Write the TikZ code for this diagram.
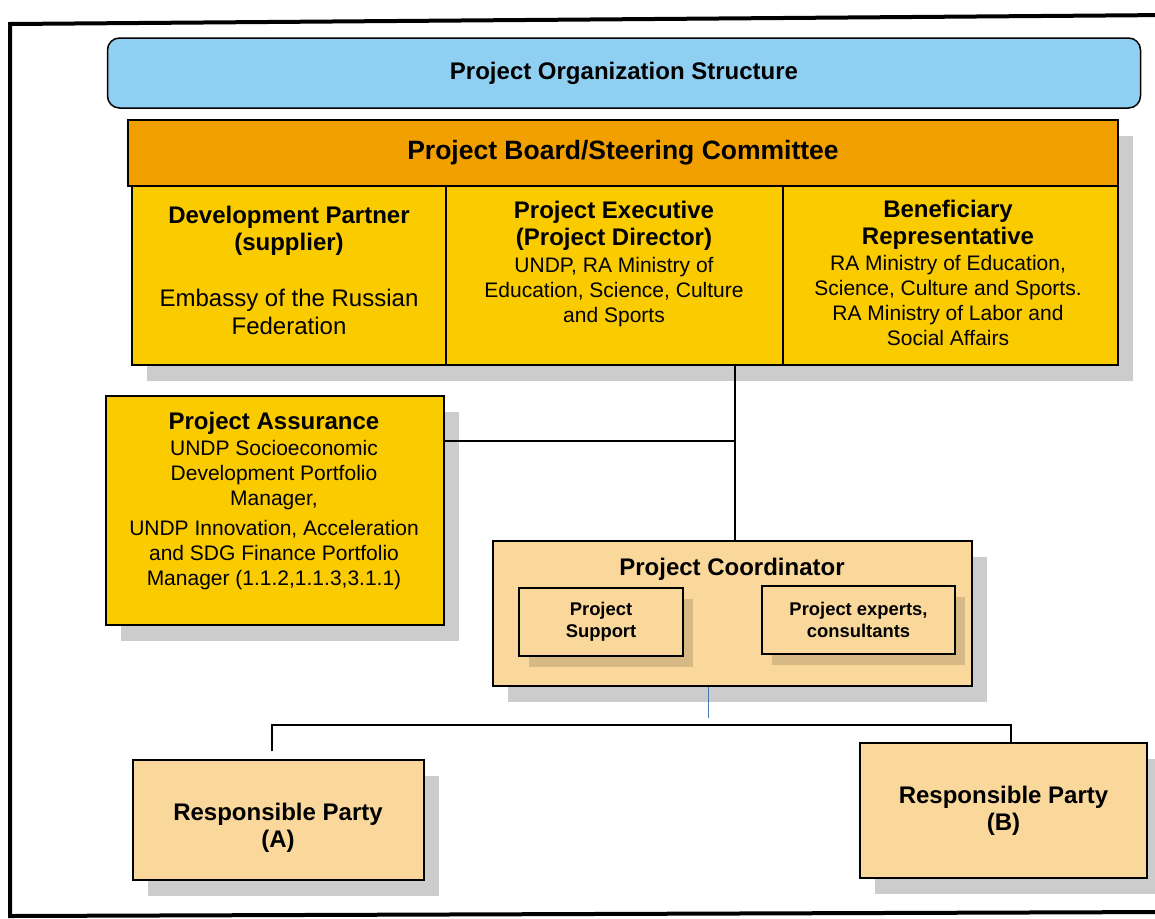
\documentclass[tikz,border=0pt]{standalone}
\usepackage{fontspec}
\setmainfont{Liberation Sans}
\usetikzlibrary{shadows}
\definecolor{titleblue}{RGB}{143,208,242}
\definecolor{boardorange}{RGB}{241,160,0}
\definecolor{boxyellow}{RGB}{250,204,0}
\definecolor{boxtan}{RGB}{250,216,156}
\definecolor{linkblue}{RGB}{70,120,175}
\begin{document}
\begin{tikzpicture}[x=1pt,y=-1pt,
  frameline/.style={line width=4pt, line join=miter},
  plainbox/.style={draw=black, line width=1.5pt, rectangle, inner sep=0pt},
  shbox/.style={plainbox,
    drop shadow={shadow xshift=15pt, shadow yshift=-16pt, fill=black, opacity=0.2}},
  smallsh/.style={plainbox, drop shadow={shadow xshift=10pt, shadow yshift=-11pt, fill=black, opacity=0.14}},
  conn/.style={draw=black, line width=1.6pt},
  bluelink/.style={draw=linkblue, line width=0.8pt},
  boldA/.style={font=\fontsize{24}{27}\selectfont\bfseries, align=center, inner sep=0pt},
  regA/.style={font=\fontsize{24}{28}\selectfont, align=center, inner sep=0pt},
  regB/.style={font=\fontsize{21}{25}\selectfont, align=center, inner sep=0pt},
  boldS/.style={font=\fontsize{18.4}{22}\selectfont\bfseries, align=center, inner sep=0pt}
]
\useasboundingbox (0,0) rectangle (1155,918);
\clip (0,0) rectangle (1155,918);
\fill[white] (0,0) rectangle (1155,918);
% outer frame
\draw[frameline] (1170,15) -- (10,24) -- (10,916) -- (1170,912);

% title
\node[draw=black, line width=1.5pt, rounded corners=12pt, fill=titleblue,
  minimum width=1033pt, minimum height=70pt, inner sep=0pt,
  font=\fontsize{24}{27}\selectfont\bfseries] (title) at (624,73) {Project Organization Structure};

% board
\node[shbox, fill=boardorange, minimum width=990pt, minimum height=66pt,
  font=\fontsize{26.5}{30}\selectfont\bfseries] (board) at (623,153) {Project Board/Steering Committee};

% board members
\node[shbox, fill=boxyellow, minimum width=314pt, minimum height=179pt] (dp) at (289,275.5) {};
\node[shbox, fill=boxyellow, minimum width=337pt, minimum height=179pt] (pe) at (614.5,275.5) {};
\node[shbox, fill=boxyellow, minimum width=335pt, minimum height=179pt] (br) at (950.5,275.5) {};

\node[boldA] (dpT) at (289,231) {Development Partner\\(supplier)};
\node[regA] (dpB) at (289,312) {Embassy of the Russian\\Federation};
\node[boldA] (peT) at (614,225.5) {Project Executive\\(Project Director)};
\node[regB] (peB) at (614,292) {UNDP, RA Ministry of\\Education, Science, Culture\\and Sports};
\node[boldA] (brT) at (948,224.5) {Beneficiary\\Representative};
\node[regB] (brB) at (948,300.5) {RA Ministry of Education,\\Science, Culture and Sports.\\RA Ministry of Labor and\\Social Affairs};

% project assurance
\node[shbox, fill=boxyellow, minimum width=338pt, minimum height=229pt] (pa) at (275,510.5) {};
\node[boldA] (paT) at (274,423) {Project Assurance};
\node[regB] (paB1) at (274,475.5) {UNDP Socioeconomic\\Development Portfolio\\Manager,};
\node[regB] (paB2) at (274,555.5) {UNDP Innovation, Acceleration\\and SDG Finance Portfolio\\Manager (1.1.2,1.1.3,3.1.1)};

% project coordinator
\node[shbox, fill=boxtan, minimum width=479pt, minimum height=145pt] (pc) at (732.5,613.5) {};
\node[boldA] (pcT) at (732,569) {Project Coordinator};
\node[smallsh, fill=boxtan, minimum width=164pt, minimum height=68pt, boldS] (ps) at (601,622) {Project\\Support};
\node[smallsh, fill=boxtan, minimum width=193pt, minimum height=68pt, boldS] (px) at (858.5,620) {Project experts,\\consultants};

% responsible parties
\node[shbox, fill=boxtan, minimum width=291pt, minimum height=120pt] (ra) at (278.5,820) {};
\node[boldA] (raT) at (278,828) {Responsible Party\\(A)};
\node[shbox, fill=boxtan, minimum width=287pt, minimum height=135pt, boldA] (rb) at (1003.5,810.5) {Responsible Party\\(B)};

% connectors
\coordinate (jt) at (735,441);
\draw[conn] (pe.south -| jt) -- (pc.north -| jt);
\draw[conn] (pa.east |- jt) -- (jt);
\coordinate (bl) at (708,718);
\draw[bluelink] (pc.south -| bl) -- (bl);
\coordinate (barA) at (272,725);
\coordinate (barB) at (1011,725);
\draw[conn, shorten <=8pt] (ra.north -| barA) -- (barA) -- (barB) -- (rb.north -| barB);
\end{tikzpicture}
\end{document}
